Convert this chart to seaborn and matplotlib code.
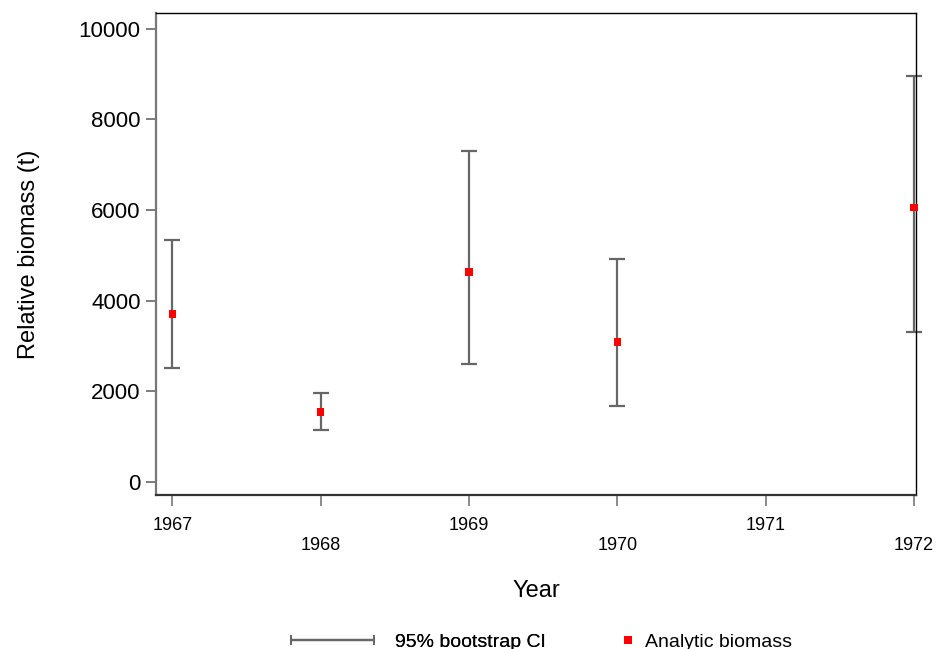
import matplotlib
matplotlib.use("Agg")
import matplotlib.pyplot as plt
from matplotlib.lines import Line2D
from matplotlib.legend_handler import HandlerLine2D
import seaborn as sns
import pandas as pd

years = [1967, 1968, 1969, 1970, 1972]
biomass = [3700, 1540, 4630, 3090, 6060]
ci_low = [2520, 1140, 2610, 1680, 3300]
ci_high = [5330, 1960, 7300, 4920, 8950]
xtick_years = [1967, 1968, 1969, 1970, 1971, 1972]
ytick_vals = [0, 2000, 4000, 6000, 8000, 10000]

df = pd.DataFrame({"year": years, "biomass": biomass, "low": ci_low, "high": ci_high})

sns.set_style("white")
plt.rcParams["font.family"] = ["Liberation Sans", "DejaVu Sans"]
plt.rcParams["text.color"] = "black"
plt.rcParams["axes.labelcolor"] = "black"
plt.rcParams["xtick.color"] = "black"
plt.rcParams["ytick.color"] = "black"

fig = plt.figure(figsize=(9.38, 6.49), dpi=100)
ax = fig.add_axes([156 / 938, 1 - 495 / 649, (916 - 156) / 938, (495 - 13) / 649])

grey = "#666666"
yerr = [df["biomass"] - df["low"], df["high"] - df["biomass"]]
eb = ax.errorbar(df["year"], df["biomass"], yerr=yerr, fmt="none", ecolor=grey,
                 elinewidth=1.6, capsize=5.5, capthick=1.6, zorder=2)
for part in eb.lines:
    if isinstance(part, (list, tuple)):
        for a in part:
            a.set_clip_on(False)
    elif part is not None:
        part.set_clip_on(False)
sns.scatterplot(data=df, x="year", y="biomass", ax=ax, color="red", marker="s",
                s=30, edgecolor="none", zorder=3, legend=False, clip_on=False)

ax.set_xlim(1966.89, 1972.013)
ax.set_ylim(-290, 10350)
ax.set_yticks(ytick_vals)
ax.set_yticklabels([str(v) for v in ytick_vals], fontsize=16)
ax.set_xticks(xtick_years)
ax.set_xticklabels([str(y) if i % 2 == 0 else "\n" + str(y) for i, y in enumerate(xtick_years)],
                   fontsize=13, linespacing=1.2)
ax.tick_params(axis="y", direction="out", length=7, width=1.2, color="#666666",
               labelcolor="black", pad=4, left=True)
ax.tick_params(axis="x", direction="out", length=8, width=1.2, color="#777777",
               labelcolor="black", pad=8, bottom=True)

ax.set_xlabel("Year", fontsize=17, labelpad=19, color="black")
ax.set_ylabel("Relative biomass (t)", fontsize=17, labelpad=28, color="black")

for side in ["top", "right"]:
    ax.spines[side].set_color("black")
    ax.spines[side].set_linewidth(1.0)
ax.spines["left"].set_color("#777777")
ax.spines["left"].set_linewidth(1.6)
ax.spines["bottom"].set_color("#333333")
ax.spines["bottom"].set_linewidth(1.6)

ci_handle = Line2D([0, 1], [0, 0], color=grey, linewidth=1.6, marker="|",
                   markersize=7, markeredgewidth=1.4)
pt_handle = Line2D([0], [0], color="red", marker="s", linestyle="none",
                   markersize=5.5, markeredgewidth=0)

leg1 = fig.legend(handles=[ci_handle], labels=["95% bootstrap CI"], loc="center left",
                  bbox_to_anchor=(285 / 938, 1 - 642 / 649), frameon=False, fontsize=14,
                  handlelength=4.9, handletextpad=0.75, borderpad=0, borderaxespad=0,
                  handler_map={ci_handle: HandlerLine2D(numpoints=2)})
fig.add_artist(leg1)
fig.legend(handles=[pt_handle], labels=["Analytic biomass"], loc="center left",
           bbox_to_anchor=(622 / 938, 1 - 642 / 649), frameon=False, fontsize=14,
           handlelength=0.6, handletextpad=0.6, borderpad=0, borderaxespad=0)

fig.savefig("out.png", dpi=100)
